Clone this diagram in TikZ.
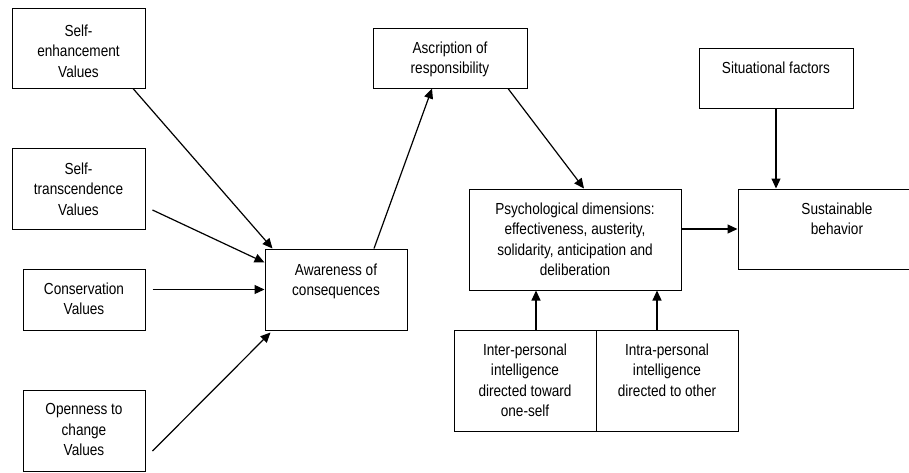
\documentclass[tikz,border=0pt]{standalone}
\usepackage{fontspec}
\setmainfont{Liberation Sans}[FakeStretch=0.85]
\usetikzlibrary{arrows.meta, positioning, calc}
\tikzset{
  >={Triangle[length=10pt, width=9pt]},
  wire/.style={line width=1.2pt},
  box/.style={rectangle, draw, line width=1pt, inner sep=0pt},
  txt/.style={anchor=north, align=center, inner sep=0pt,
    font=\fontsize{16}{20.5}\selectfont},
}

\begin{document}
\begin{tikzpicture}[x=1pt, y=-1pt]
  \useasboundingbox (0,0) rectangle (909,472);

  % ----- value boxes (left column) ------------------------------------------
  \node[box, minimum width=133, minimum height=80] (se) at (78.5,48)    {};
  \node[box, minimum width=133, minimum height=81] (st) at (78.5,188.5) {};
  \node[box, minimum width=122, minimum height=61] (cv) at (84,299.5)   {};
  \node[box, minimum width=122, minimum height=81] (op) at (84,430.5)   {};

  % ----- middle and right boxes ---------------------------------------------
  \node[box, minimum width=142, minimum height=81]  (aw) at (336,289.5) {};
  \node[box, minimum width=154, minimum height=60]  (ar) at (450,58)    {};
  \node[box, minimum width=154, minimum height=60]  (sf) at (776,78)    {};
  \node[box, minimum width=212, minimum height=101] (pd) at (575,239.5) {};
  \node[box, minimum width=198, minimum height=80]  (sb) at (837,229)   {};
  \node[box, minimum width=142, minimum height=101] (ie) at (525,380.5) {};
  \node[box, minimum width=142, minimum height=101] (ia) at (667,380.5) {};

  % ----- texts, hung from the top of each box -------------------------------
  \node[txt] (se-t) at ($(se.north)+(0,17)$) {Self-\\enhancement\\Values};
  \node[txt] (st-t) at ($(st.north)+(0,15)$) {Self-\\transcendence\\Values};
  \node[txt] (cv-t) at ($(cv.north)+(0,14)$) {Conservation\\Values};
  \node[txt] (op-t) at ($(op.north)+(0,14)$) {Openness to\\change\\Values};
  \node[txt] (aw-t) at ($(aw.north)+(0,15)$) {Awareness of\\consequences};
  \node[txt] (ar-t) at ($(ar.north)+(0,14)$) {Ascription of\\responsibility};
  \node[txt] (sf-t) at ($(sf.north)+(0,14)$) {Situational factors};
  \node[txt] (pd-t) at ($(pd.north)+(0,14)$)
    {Psychological dimensions:\\effectiveness, austerity,\\solidarity, anticipation and\\deliberation};
  \node[txt] (sb-t) at ($(sb.north)+(0,14)$) {Sustainable\\behavior};
  \node[txt] (ie-t) at ($(ie.north)+(0,14)$)
    {Inter-personal\\intelligence\\directed toward\\one-self};
  \node[txt] (ia-t) at ($(ia.north)+(0,14)$)
    {Intra-personal\\intelligence\\directed to other};

  % ----- values -> awareness ------------------------------------------------
  \draw[wire,->] ($(se.south)+(54.5,0)$) -- ($(aw.north west)+(8,0)$);
  \draw[wire,->] ($(st.east)+(7,21.5)$)  -- ($(aw.north west)+(0,14)$);
  \draw[wire,->] ($(cv.east)+(7,-10)$)   -- (aw.west);
  \draw[wire,->] ($(op.east)+(7,20.5)$)  -- ($(aw.south west)+(6,2)$);

  % ----- awareness -> ascription -> psychological dimensions ----------------
  \draw[wire,->] ($(aw.north)+(38,0)$) -- ($(ar.south)+(-18,0)$);
  \draw[wire,->] ($(ar.south)+(58,0)$) -- ($(pd.north)+(9,0)$);

  % ----- towards sustainable behaviour --------------------------------------
  \draw[wire,->] (sf.south) -- (sf.south |- sb.north);
  \draw[wire,->] (pd.east |- sb.west) -- (sb.west);

  % ----- intelligences -> psychological dimensions --------------------------
  \draw[wire,->] ($(ie.north)+(11,0)$)  -- ($(pd.south)+(-39,0)$);
  \draw[wire,->] ($(ia.north)+(-10,0)$) -- ($(pd.south)+(82,0)$);

\end{tikzpicture}
\end{document}
